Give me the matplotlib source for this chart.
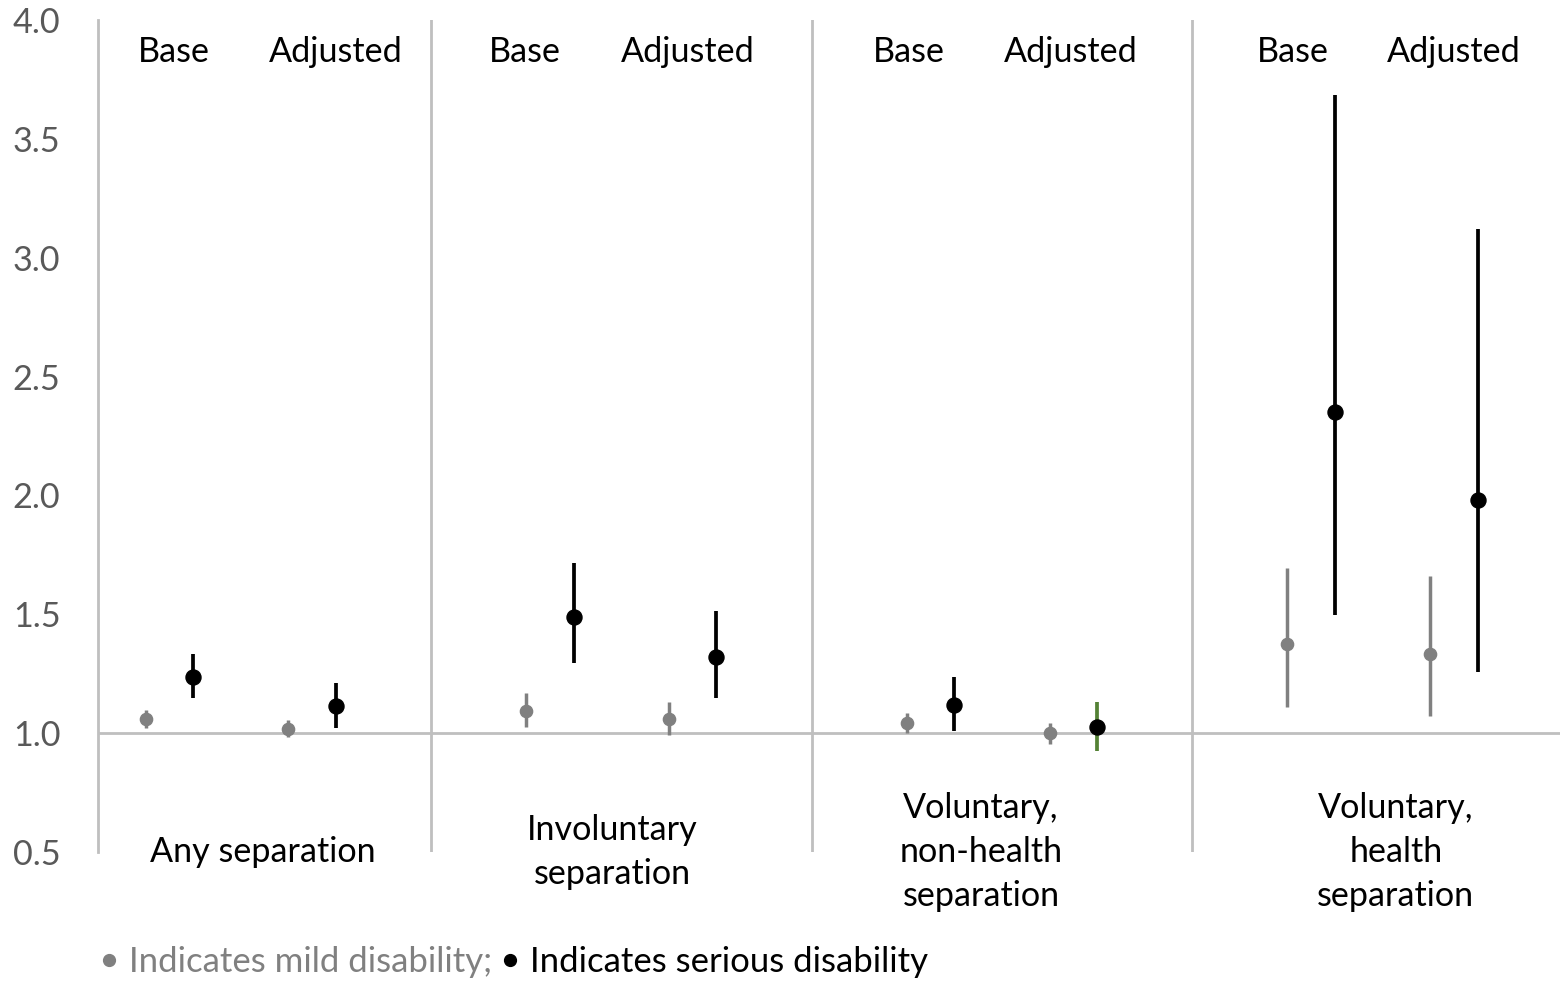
import matplotlib.pyplot as plt
from matplotlib.lines import Line2D
import numpy as np

plt.rcParams['font.family'] = ['Lato', 'DejaVu Sans']

# data
groups = ['Any separation', 'Involuntary\nseparation',
          'Voluntary,\nnon-health\nseparation', 'Voluntary,\nhealth\nseparation']
models = ['Base', 'Adjusted']

# mild disability: [group][model]
mild_est = [[1.059, 1.017], [1.094, 1.059], [1.041, 1.000], [1.373, 1.335]]
mild_lo = [[1.020, 0.982], [1.024, 0.992], [1.000, 0.953], [1.108, 1.071]]
mild_hi = [[1.097, 1.055], [1.167, 1.130], [1.086, 1.044], [1.696, 1.659]]

# serious disability
ser_est = [[1.235, 1.115], [1.490, 1.319], [1.118, 1.024], [2.351, 1.982]]
ser_lo = [[1.146, 1.020], [1.294, 1.146], [1.010, 0.925], [1.499, 1.258]]
ser_hi = [[1.332, 1.210], [1.714, 1.514], [1.235, 1.132], [3.685, 3.121]]

yticks = [0.5, 1.0, 1.5, 2.0, 2.5, 3.0, 3.5, 4.0]

grey = '#808080'
line_col = '#BFBFBF'
tick_col = '#595959'
green = '#548235'
fs = 24.6

fig = plt.figure(figsize=(15.6, 9.82), dpi=100)
ax = fig.add_axes([98/1560, 1-852/982, 1-98/1560, (852-20)/982])

# slot positions: 8 slots per group
for g in range(4):
    for m in range(2):
        xm = 8*g + 1 + 3*m
        xs = xm + 1
        e, lo, hi = mild_est[g][m], mild_lo[g][m], mild_hi[g][m]
        ax.errorbar(xm, e, yerr=[[e-lo], [hi-e]], fmt='o', color=grey, ms=8.8,
                    elinewidth=2.5, capsize=0, zorder=4)
        e, lo, hi = ser_est[g][m], ser_lo[g][m], ser_hi[g][m]
        ecol = green if (g == 2 and m == 1) else 'black'
        ax.errorbar(xs, e, yerr=[[e-lo], [hi-e]], fmt='o', color='black', ecolor=ecol,
                    ms=10.8, elinewidth=2.7, capsize=0, zorder=5)

ax.set_xlim(0, 30.73)
ax.set_ylim(0.5, 4.0)
ax.set_yticks(yticks)
ax.set_yticklabels(['%.1f' % t for t in yticks])
ax.tick_params(axis='y', length=0, pad=27, labelsize=fs, labelcolor=tick_col)
ax.set_xticks([])
for s in ['top', 'right', 'bottom']:
    ax.spines[s].set_visible(False)
ax.spines['left'].set_color(line_col)
ax.spines['left'].set_linewidth(2)

for xv in [7, 15, 23]:
    ax.axvline(xv, color=line_col, lw=2, zorder=1)
ax.axhline(1.0, color=line_col, lw=2, zorder=1)

base_x = [1.59, 8.98, 17.05, 25.11]
adj_x = [5.0, 12.39, 20.44, 28.5]
cat_x = [3.46, 10.81, 18.56, 27.28]
for g in range(4):
    ax.text(base_x[g], 3.865, models[0], ha='center', va='center', fontsize=fs)
    ax.text(adj_x[g], 3.865, models[1], ha='center', va='center', fontsize=fs)
    ax.text(cat_x[g], 0.5, groups[g], ha='center', va='center', fontsize=fs,
            linespacing=1.48, clip_on=False)

handles = [Line2D([], [], ls='none', marker='o', color=grey, ms=8.5),
           Line2D([], [], ls='none', marker='o', color='black', ms=8.5)]
fig.legend(handles, ['Indicates mild disability;', 'Indicates serious disability'],
           loc='center left', bbox_to_anchor=(101/1560, 1-962/982), ncol=2, frameon=False,
           fontsize=25, labelcolor=[grey, 'black'], handlelength=0.45, handletextpad=0.35,
           columnspacing=0.3, borderpad=0, borderaxespad=0)

fig.savefig('out.png', dpi=100)
